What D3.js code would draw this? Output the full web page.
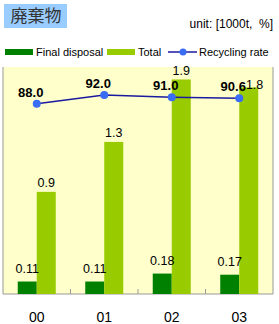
<!DOCTYPE html>
<html>
<head>
<meta charset="utf-8">
<script src="https://cdn.jsdelivr.net/npm/d3@7"></script>
<style>
  body { margin: 0; background: #fff; }
  text { font-family: "Liberation Sans", Arial, sans-serif; }
</style>
</head>
<body>
<div id="chart"></div>
<script>
var categories = ["00", "01", "02", "03"];
var finalDisposal = [0.11, 0.11, 0.18, 0.17];
var total = [0.9, 1.34, 1.89, 1.82];
var recyclingRate = [88.0, 92.0, 91.0, 90.6];
var seriesNames = ["Final disposal", "Total", "Recycling rate"];

var W = 279, H = 324;
var margin = { top: 67, right: 6, bottom: 30, left: 3 };
var width = W - margin.left - margin.right;
var height = H - margin.top - margin.bottom;

var svg = d3.select("#chart").append("svg")
    .attr("width", W).attr("height", H);

// title box
svg.append("rect").attr("x", 4).attr("y", 4).attr("width", 63).attr("height", 24)
    .attr("fill", "#99ccff");
svg.append("text").attr("x", 36).attr("y", 22).attr("text-anchor", "middle")
    .style("font-family", "'Noto Sans CJK JP', sans-serif")
    .style("font-size", "17px").attr("fill", "#333")
    .text("廃棄物");

svg.append("text").attr("x", 273).attr("y", 28).attr("text-anchor", "end")
    .style("font-size", "12px").style("white-space", "pre").attr("fill", "#000")
    .text("unit: [1000t,  %]");

// legend
var lg = svg.append("g").attr("transform", "translate(0,52)");
lg.append("rect").attr("x", 5).attr("y", -3).attr("width", 28).attr("height", 6).attr("fill", "#008000");
lg.append("text").attr("x", 36).attr("y", 4).style("font-size", "11px").text(seriesNames[0]);
lg.append("rect").attr("x", 107).attr("y", -3).attr("width", 28).attr("height", 6).attr("fill", "#99cc00");
lg.append("text").attr("x", 138).attr("y", 4).style("font-size", "11px").text(seriesNames[1]);
lg.append("line").attr("x1", 168).attr("x2", 197).attr("y1", 0).attr("y2", 0)
    .attr("stroke", "#1a1aa0").attr("stroke-width", 1.5);
lg.append("circle").attr("cx", 183).attr("cy", 0).attr("r", 3.5).attr("fill", "#3a6cf4");
lg.append("text").attr("x", 199).attr("y", 4).style("font-size", "11px").text(seriesNames[2]);

var g = svg.append("g").attr("transform", "translate(" + margin.left + "," + margin.top + ")");

g.append("rect").attr("width", width).attr("height", height).attr("fill", "#ffffcc");

var x0 = d3.scaleBand().domain(categories).range([0, width]).padding(0);
var x1 = d3.scaleBand().domain(["final", "total"]).range([0, x0.bandwidth()])
    .paddingInner(0).paddingOuter(0.776);
var y = d3.scaleLinear().domain([0, 2]).range([height, 0]);
var y2 = d3.scaleLinear().domain([0, 105]).range([height, 0]);

// border
g.append("path")
    .attr("d", "M0,0V" + height + "H" + width + "V0")
    .attr("fill", "none").attr("stroke", "#999").attr("stroke-width", 1);

// ticks between categories
g.selectAll(".tick").data(categories.slice(1)).enter().append("line")
    .attr("x1", function (d) { return x0(d); })
    .attr("x2", function (d) { return x0(d); })
    .attr("y1", height).attr("y2", height - 5)
    .attr("stroke", "#999");

var groups = g.selectAll(".grp").data(categories).enter().append("g")
    .attr("transform", function (d) { return "translate(" + x0(d) + ",0)"; });

groups.append("rect")
    .attr("x", x1("final")).attr("width", x1.bandwidth())
    .attr("y", function (d, i) { return y(finalDisposal[i]); })
    .attr("height", function (d, i) { return height - y(finalDisposal[i]); })
    .attr("fill", "#008000");

groups.append("rect")
    .attr("x", x1("total")).attr("width", x1.bandwidth())
    .attr("y", function (d, i) { return y(total[i]); })
    .attr("height", function (d, i) { return height - y(total[i]); })
    .attr("fill", "#99cc00");

groups.append("text")
    .attr("x", x1("final") + x1.bandwidth() / 2)
    .attr("y", function (d, i) { return y(finalDisposal[i]) - 9; })
    .attr("text-anchor", "middle").style("font-size", "12.5px")
    .text(function (d, i) { return d3.format(".2f")(finalDisposal[i]); });

var totalLabels = groups.append("text")
    .attr("x", x1("total") + x1.bandwidth() / 2)
    .attr("y", function (d, i) { return y(total[i]) - 5; })
    .attr("text-anchor", "middle").style("font-size", "12.5px")
    .text(function (d, i) { return d3.format(".1f")(total[i]); });

// recycling rate line
var line = d3.line()
    .x(function (d, i) { return x0(categories[i]) + x0.bandwidth() / 2; })
    .y(function (d) { return y2(d); });

g.append("path").datum(recyclingRate).attr("d", line)
    .attr("fill", "none").attr("stroke", "#1a1aa0").attr("stroke-width", 1.5);

g.selectAll(".pt").data(recyclingRate).enter().append("circle")
    .attr("cx", function (d, i) { return x0(categories[i]) + x0.bandwidth() / 2; })
    .attr("cy", function (d) { return y2(d); })
    .attr("r", 4).attr("fill", "#3a6cf4");

var rateLabels = g.selectAll(".rl").data(recyclingRate).enter().append("text")
    .attr("x", function (d, i) { return x0(categories[i]) + x0.bandwidth() / 2 - 6; })
    .attr("y", function (d) { return y2(d) - 7; })
    .attr("text-anchor", "middle").style("font-size", "13px").style("font-weight", "bold")
    .text(function (d) { return d3.format(".1f")(d); });

// push a total label to the right when it sits on a rate label
totalLabels.each(function (d, i) {
    var t = this, tb = t.getBBox();
    var tx = x0(categories[i]) + tb.x, rl = rateLabels.nodes()[i], rb = rl.getBBox();
    var overlapY = tb.y < rb.y + rb.height && tb.y + tb.height > rb.y;
    if (overlapY && tx < rb.x + rb.width - 3 && tx + tb.width > rb.x) {
        d3.select(t).attr("text-anchor", "start")
            .attr("x", rb.x + rb.width - x0(categories[i]))
            .attr("y", y2(recyclingRate[i]) - 9);
    }
});

// x labels
g.selectAll(".xl").data(categories).enter().append("text")
    .attr("x", function (d) { return x0(d) + x0.bandwidth() / 2; })
    .attr("y", height + 28)
    .attr("text-anchor", "middle").style("font-size", "14px")
    .text(function (d) { return d; });
</script>
</body>
</html>
